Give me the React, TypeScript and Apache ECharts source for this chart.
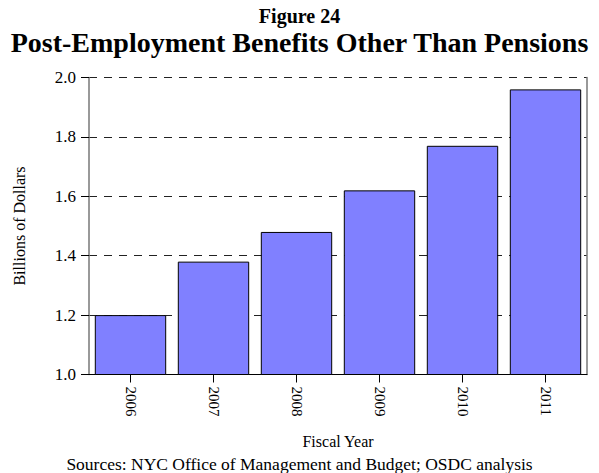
import React, { useEffect, useRef } from "react";
import * as echarts from "echarts";

const categories = ["2006", "2007", "2008", "2009", "2010", "2011"];
const values = [1.2, 1.38, 1.48, 1.62, 1.77, 1.96];
const yTicks = ["1.0", "1.2", "1.4", "1.6", "1.8", "2.0"];

const FONT = "'Liberation Serif', 'Times New Roman', serif";

export default function App() {
  const ref = useRef<HTMLDivElement>(null);
  useEffect(() => {
    if (!ref.current) return;
    const chart = echarts.init(ref.current, undefined, { renderer: "svg" });
    chart.setOption({
      animation: false,
      backgroundColor: "#ffffff",
      textStyle: { fontFamily: FONT, color: "#000" },
      title: [
        {
          text: "Figure 24",
          left: "center",
          top: 6,
          padding: 0,
          textStyle: { fontFamily: FONT, fontSize: 20, lineHeight: 20, fontWeight: "bold", color: "#000" },
        },
        {
          text: "Post-Employment Benefits Other Than Pensions",
          left: "center",
          top: 29,
          padding: 0,
          textStyle: { fontFamily: FONT, fontSize: 28, lineHeight: 27, fontWeight: "bold", color: "#000" },
        },
        {
          text: "Sources: NYC Office of Management and Budget; OSDC analysis",
          left: "center",
          top: 455,
          padding: 0,
          textStyle: { fontFamily: FONT, fontSize: 17.5, lineHeight: 17, fontWeight: "normal", color: "#000" },
        },
      ],
      grid: { left: 89, right: 12, top: 77.5, bottom: 98.5, outerBoundsMode: "none", containLabel: false },
      xAxis: {
        type: "category",
        data: categories,
        name: "Fiscal Year",
        nameLocation: "middle",
        nameGap: 59,
        nameTextStyle: { fontFamily: FONT, fontSize: 16, color: "#000" },
        axisLine: { show: true, lineStyle: { color: "#000", width: 1 } },
        axisTick: { show: true, alignWithLabel: true, length: 8, lineStyle: { color: "#000" } },
        axisLabel: {
          rotate: -90,
          margin: 12,
          fontFamily: FONT,
          fontSize: 15,
          color: "#000",
        },
      },
      yAxis: [
        {
          type: "value",
          min: 1.0,
          max: 2.0,
          interval: 0.2,
          name: "Billions of Dollars",
          nameLocation: "middle",
          nameGap: 62,
          nameRotate: 90,
          nameTextStyle: { fontFamily: FONT, fontSize: 16, color: "#000" },
          axisLine: { show: true, lineStyle: { color: "#777", width: 1.5 } },
          axisTick: { show: true, inside: false, length: 8, lineStyle: { color: "#000" } },
          axisLabel: {
            margin: 13,
            fontFamily: FONT,
            fontSize: 17,
            color: "#000",
            formatter: (v: number) => {
              const idx = Math.round((v - 1.0) / 0.2);
              return yTicks[idx] ?? v.toFixed(1);
            },
          },
          splitLine: {
            show: true,
            lineStyle: { color: "#222", type: [8, 7], width: 1 },
          },
        },
        {
          type: "value",
          position: "right",
          min: 1.0,
          max: 2.0,
          interval: 0.2,
          axisLine: { show: true, lineStyle: { color: "#777", width: 1.5 } },
          axisTick: { show: false },
          axisLabel: { show: false },
          splitLine: { show: false },
        },
      ],
      series: [
        {
          type: "bar",
          data: values,
          barCategoryGap: "14%",
          itemStyle: { color: "#8080ff", borderColor: "#000", borderWidth: 1 },
        },
      ],
    });
    return () => chart.dispose();
  }, []);
  return <div ref={ref} style={{ width: 599, height: 473, position: "absolute", left: 0, top: 0 }} />;
}
